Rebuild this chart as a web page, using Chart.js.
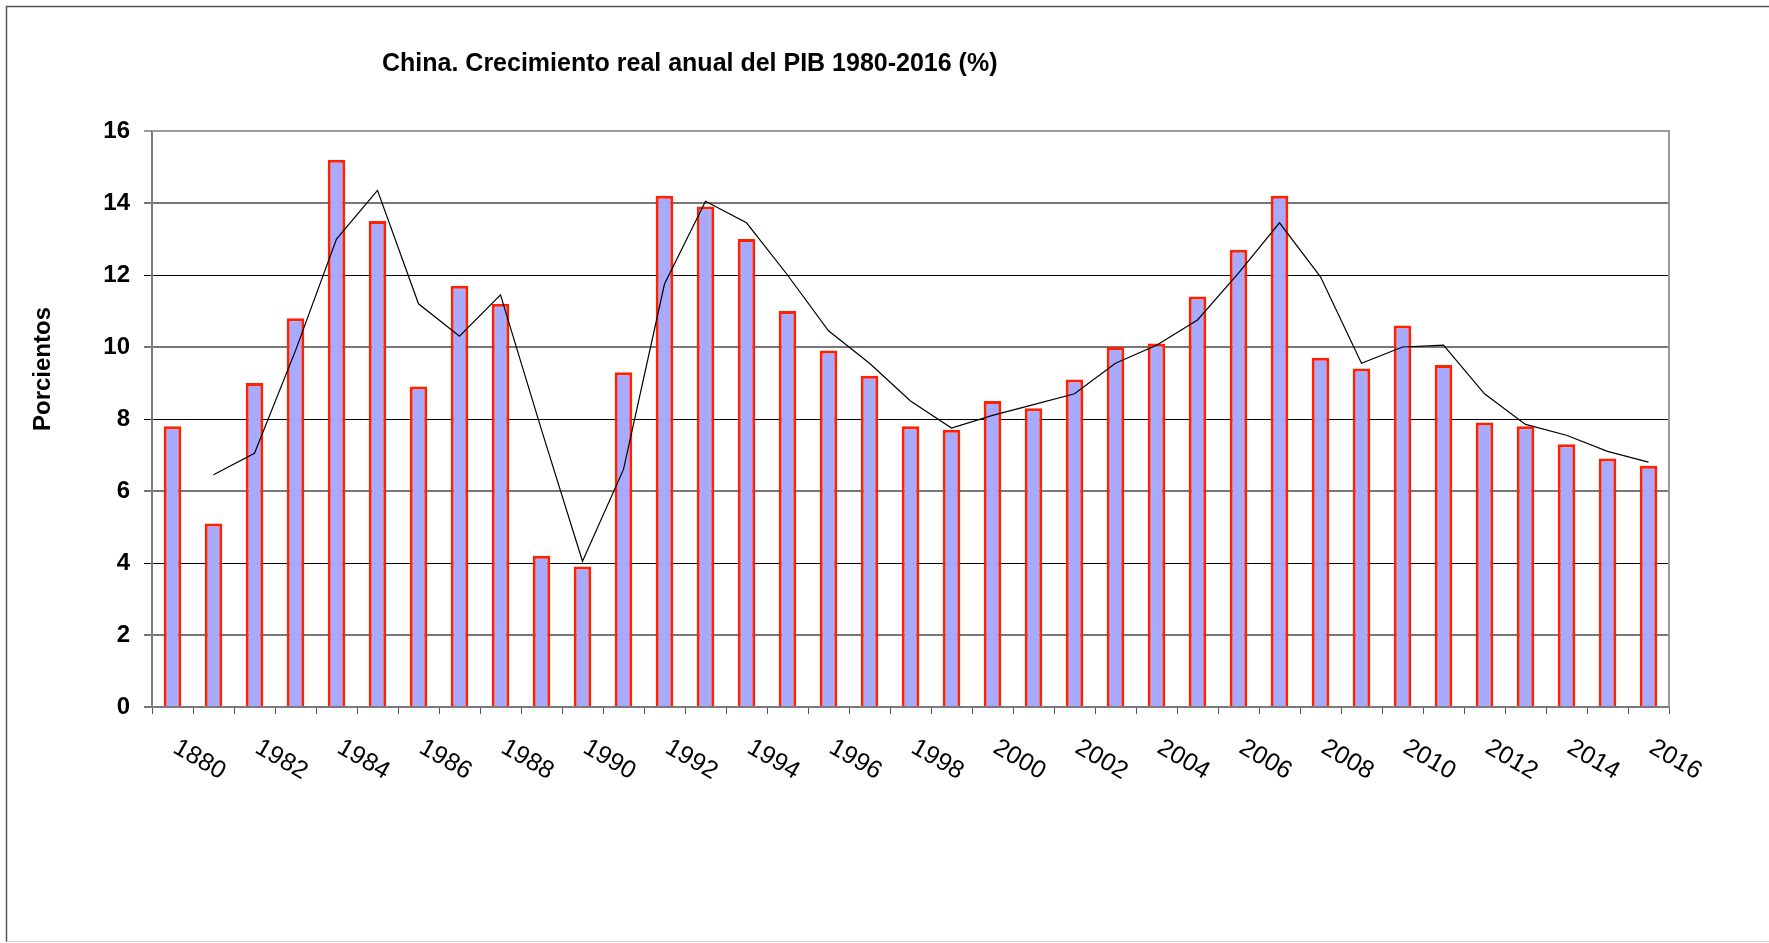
<!DOCTYPE html>
<html>
<head>
<meta charset="utf-8">
<title>China. Crecimiento real anual del PIB 1980-2016 (%)</title>
<script src="https://cdn.jsdelivr.net/npm/chart.js@4/dist/chart.umd.min.js"></script>
<style>
  html, body { margin: 0; padding: 0; background: #fff; }
  #wrap { width: 1769px; height: 943px; position: relative; }
</style>
</head>
<body>
<div id="wrap"><canvas id="pib"></canvas></div>
<script>
// datos
const years = ['1980', '1981', '1982', '1983', '1984', '1985', '1986', '1987', '1988', '1989',
               '1990', '1991', '1992', '1993', '1994', '1995', '1996', '1997', '1998', '1999',
               '2000', '2001', '2002', '2003', '2004', '2005', '2006', '2007', '2008', '2009',
               '2010', '2011', '2012', '2013', '2014', '2015', '2016'];

// etiquetas del eje x (una de cada dos, tal cual aparecen, incluido "1880")
const xTickLabels = ['1880', '1982', '1984', '1986', '1988', '1990', '1992', '1994', '1996', '1998',
                     '2000', '2002', '2004', '2006', '2008', '2010', '2012', '2014', '2016'];

const growth = [7.8, 5.1, 9.0, 10.8, 15.2, 13.5, 8.9, 11.7, 11.2, 4.2,
                3.9, 9.3, 14.2, 13.9, 13.0, 11.0, 9.9, 9.2, 7.8, 7.7,
                8.5, 8.3, 9.1, 10.0, 10.1, 11.4, 12.7, 14.2, 9.7, 9.4,
                10.6, 9.5, 7.9, 7.8, 7.3, 6.9, 6.7];

// linea de tendencia (media movil de 2 periodos)
const trend = [null, 6.45, 7.05, 9.9, 13.0, 14.35, 11.2, 10.3, 11.45, 7.7,
               4.05, 6.6, 11.75, 14.05, 13.45, 12.0, 10.45, 9.55, 8.5, 7.75,
               8.1, 8.4, 8.7, 9.55, 10.05, 10.75, 12.05, 13.45, 11.95, 9.55,
               10.0, 10.05, 8.7, 7.85, 7.55, 7.1, 6.8];

const yTicks = [0, 2, 4, 6, 8, 10, 12, 14, 16];

const FONT = '"Liberation Sans", Arial, Helvetica, sans-serif';
Chart.defaults.font.family = FONT;
Chart.defaults.color = '#000';

// fondo blanco, marco exterior, titulos y etiquetas giradas
const decorPlugin = {
    id: 'decor',
    beforeDraw(chart) {
        const ctx = chart.ctx;
        ctx.save();
        ctx.fillStyle = '#fff';
        ctx.fillRect(0, 0, chart.width, chart.height);
        ctx.restore();
    },
    afterDraw(chart) {
        const ctx = chart.ctx;
        const area = chart.chartArea;
        const xScale = chart.scales.x;
        ctx.save();

        // marco del area de trazado (arriba y derecha)
        ctx.strokeStyle = '#9a9a9a';
        ctx.lineWidth = 2;
        ctx.beginPath();
        ctx.moveTo(area.left, area.top);
        ctx.lineTo(area.right, area.top);
        ctx.lineTo(area.right, area.bottom);
        ctx.stroke();

        // marco exterior del grafico
        ctx.strokeStyle = '#555';
        ctx.lineWidth = 1.5;
        ctx.beginPath();
        ctx.moveTo(chart.width, 6.5);
        ctx.lineTo(6.5, 6.5);
        ctx.lineTo(6.5, chart.height - 1);
        ctx.stroke();
        ctx.strokeStyle = '#d0d0d0';
        ctx.lineWidth = 1;
        ctx.beginPath();
        ctx.moveTo(6.5, chart.height - 1.5);
        ctx.lineTo(chart.width, chart.height - 1.5);
        ctx.stroke();

        // titulo
        ctx.fillStyle = '#000';
        ctx.font = 'bold 25px ' + FONT;
        ctx.textAlign = 'left';
        ctx.textBaseline = 'middle';
        ctx.fillText('China. Crecimiento real anual del PIB 1980-2016 (%)', 382, 64);

        // titulo del eje y
        ctx.save();
        ctx.translate(43, 369);
        ctx.rotate(-Math.PI / 2);
        ctx.textAlign = 'center';
        ctx.textBaseline = 'middle';
        ctx.font = 'bold 24px ' + FONT;
        ctx.fillText('Porcientos', 0, 0);
        ctx.restore();

        // etiquetas del eje x, giradas 30 grados hacia abajo
        ctx.font = '25px ' + FONT;
        ctx.textAlign = 'left';
        ctx.textBaseline = 'top';
        xTickLabels.forEach((lab, k) => {
            const px = xScale.getPixelForValue(k * 2);
            ctx.save();
            ctx.translate(px + 9, area.bottom + 28);
            ctx.rotate(Math.PI / 6);
            ctx.fillText(lab, 0, 0);
            ctx.restore();
        });

        ctx.restore();
    }
};

const gridColor = (c) => {
    const v = c.tick ? c.tick.value : 0;
    if (v === 16) return '#9a9a9a';
    return (v === 4 || v === 8 || v === 12) ? '#000' : '#777';
};
const gridWidth = (c) => {
    const v = c.tick ? c.tick.value : 0;
    return (v === 4 || v === 8 || v === 12) ? 1 : 2;
};

new Chart(document.getElementById('pib'), {
    type: 'bar',
    data: {
        labels: years,
        datasets: [
            {
                type: 'line',
                label: 'Tendencia',
                data: trend,
                borderColor: '#000',
                borderWidth: 1.2,
                pointRadius: 0,
                tension: 0,
                fill: false,
                spanGaps: false,
                order: 0
            },
            {
                type: 'bar',
                label: 'PIB',
                data: growth,
                backgroundColor: '#A8AAFF',
                borderColor: '#FF2200',
                borderWidth: 3,
                borderSkipped: 'bottom',
                barPercentage: 0.43,
                categoryPercentage: 1,
                order: 1
            }
        ]
    },
    options: {
        responsive: true,
        maintainAspectRatio: false,
        animation: false,
        layout: {
            padding: { top: 131, right: 100, left: 0, bottom: 0 }
        },
        scales: {
            x: {
                type: 'category',
                offset: true,
                grid: {
                    display: true,
                    offset: true,
                    drawOnChartArea: false,
                    drawTicks: true,
                    tickLength: 7,
                    color: '#555',
                    lineWidth: 1
                },
                border: { display: true, color: '#7a7a7a', width: 2 },
                ticks: { display: false, autoSkip: false },
                afterFit(scale) { scale.height = 236; }
            },
            y: {
                min: 0,
                max: 16,
                afterBuildTicks(scale) {
                    scale.ticks = yTicks.map(v => ({ value: v }));
                },
                grid: {
                    color: gridColor,
                    lineWidth: gridWidth,
                    tickLength: 8,
                    drawTicks: true
                },
                border: { display: true, color: '#7a7a7a', width: 2 },
                ticks: {
                    padding: 14,
                    color: '#000',
                    font: { size: 24, weight: 'bold' }
                },
                afterFit(scale) { scale.width = 152; }
            }
        },
        plugins: {
            legend: { display: false },
            title: { display: false },
            tooltip: { enabled: false }
        }
    },
    plugins: [decorPlugin]
});
</script>
</body>
</html>
